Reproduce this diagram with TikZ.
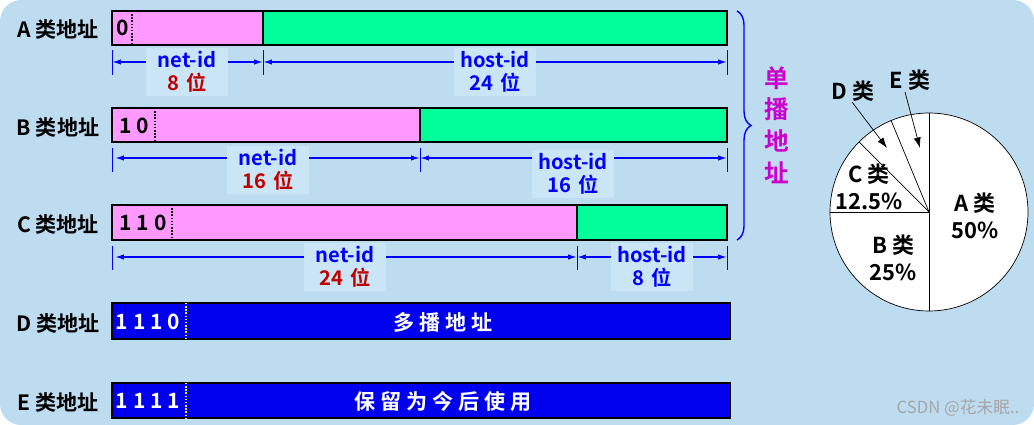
\documentclass[tikz,border=0pt]{standalone}
\usepackage{fontspec}
\setmainfont{Noto Sans CJK SC}[BoldFont={Noto Sans CJK SC Bold}]
\usetikzlibrary{decorations.pathreplacing,arrows.meta}
\definecolor{bgblue}{HTML}{BDDCF0}
\definecolor{boxblue}{HTML}{C9E5F6}
\definecolor{netpink}{HTML}{FF99FF}
\definecolor{hostgreen}{HTML}{00FF99}
\definecolor{mcblue}{HTML}{0000EE}
\definecolor{bitred}{HTML}{C00000}
\definecolor{ucmagenta}{HTML}{CC00CC}

\begin{document}
\begin{tikzpicture}[
  x=0.02cm, y=-0.02cm,
  font=\bfseries\fontsize{12}{14}\selectfont,
  cls/.style={anchor=center},
  dimline/.style={draw=blue, thick, {Latex[length=5pt,width=3pt]}-{Latex[length=5pt,width=3pt]}},
  tickline/.style={draw=blue, thin},
  dimtext/.style={fill=boxblue, align=center, inner sep=2pt, text width=1.5cm, font=\bfseries\fontsize{11.5}{13}\selectfont},
  bar/.style={draw=black, thick},
  pielabel/.style={align=center, inner sep=0pt, font=\bfseries\fontsize{12.5}{15}\selectfont},
]

% background
\fill [bgblue, rounded corners=12pt] (0,0) rectangle (1034,425);
\useasboundingbox (0,0) rectangle (1034,425);

% A class
\node [cls] (la) at (58,29) {A 类地址};
\fill [netpink] (112,11) rectangle (263,45);
\fill [hostgreen] (263,11) rectangle (727,45);
\draw [bar] (112,11) rectangle (727,45);
\draw [bar] (263,11) -- (263,45);
\draw [densely dotted, thick] (132,11) -- (132,45);
\node (ba) at (123,28) {0};
\foreach \x in {112,263,727} \draw [tickline] (\x,50) -- (\x,75);
\coordinate (a0) at (112,62);
\coordinate (a1) at (263,62);
\coordinate (a2) at (727,62);
\draw [dimline] (a0) -- (a1);
\draw [dimline] (a1) -- (a2);
\node [dimtext] (na) at (187,72) {\textcolor{blue}{net-id}\\\textcolor{bitred}{8 位}};
\node [dimtext] (ha) at (495,72) {\textcolor{blue}{host-id}\\\textcolor{blue}{24 位}};

% B class
\node [cls] (lb) at (58,127) {B 类地址};
\fill [netpink] (112,108) rectangle (420,142);
\fill [hostgreen] (420,108) rectangle (727,142);
\draw [bar] (112,108) rectangle (727,142);
\draw [bar] (420,108) -- (420,142);
\draw [densely dotted, thick] (155,108) -- (155,142);
\node (bb) at (134,126) {1 0};
\foreach \x in {112,420,727} \draw [tickline] (\x,148) -- (\x,172);
\coordinate (b0) at (115,158);
\coordinate (b1) at (420,158);
\coordinate (b2) at (727,158);
\draw [dimline] (b0) -- (b1);
\draw [dimline] (b1) -- (b2);
\node [dimtext] (nb) at (268,170) {\textcolor{blue}{net-id}\\\textcolor{bitred}{16 位}};
\node [dimtext] (hb) at (573,174) {\textcolor{blue}{host-id}\\\textcolor{blue}{16 位}};

% C class
\node [cls] (lc) at (58,224) {C 类地址};
\fill [netpink] (112,205) rectangle (577,240);
\fill [hostgreen] (577,205) rectangle (727,240);
\draw [bar] (112,205) rectangle (727,240);
\draw [bar] (577,205) -- (577,240);
\draw [densely dotted, thick] (172,205) -- (172,240);
\node (bc) at (143,223) {1 1 0};
\foreach \x in {112,577,727} \draw [tickline] (\x,246) -- (\x,270);
\coordinate (c0) at (115,257);
\coordinate (c1) at (577,257);
\coordinate (c2) at (727,257);
\draw [dimline] (c0) -- (c1);
\draw [dimline] (c1) -- (c2);
\node [dimtext] (nc) at (345,267) {\textcolor{blue}{net-id}\\\textcolor{bitred}{24 位}};
\node [dimtext] (hc) at (652,267) {\textcolor{blue}{host-id}\\\textcolor{blue}{8 位}};

% D class
\node [cls] (ld) at (58,323) {D 类地址};
\draw [bar, fill=mcblue] (112,303) rectangle (730,339);
\draw [densely dotted, thick, yellow] (186,303) -- (186,339);
\node [white] (bd) at (148,322) {1 1 1 0};
\node [white] (md) at (443,322) {多 播 地 址};

% E class
\node [cls] (le) at (58,402) {E 类地址};
\draw [bar, fill=mcblue] (112,383) rectangle (730,418);
\draw [densely dotted, thick, yellow] (186,383) -- (186,418);
\node [white] (be) at (148,401) {1 1 1 1};
\node [white] (me) at (443,401) {保 留 为 今 后 使 用};

% unicast brace
\draw [blue, thick, decorate, decoration={brace, amplitude=8pt}] (737,11) -- (737,240);
\node [ucmagenta, align=center, font=\bfseries\fontsize{14}{18}\selectfont] (uc) at (777,125) {单\\播\\地\\址};

% pie chart
\coordinate (pc) at (929,212);
\draw [fill=white] (pc) circle [radius=99];
\draw (929,113) -- (929,311);
\draw (pc) -- (830,212);
\draw (pc) -- +(-70,-70);
\draw (pc) -- +(-37.9,-91.5);
\node [pielabel] (pa) at (975,216) {A 类\\50\%};
\node [pielabel] (pb) at (893,258) {B 类\\25\%};
\node [pielabel] (pcl) at (869,187) {C 类\\12.5\%};
\node [pielabel] (pd) at (853,91) {D 类};
\node [pielabel] (pe) at (910,80) {E 类};
\coordinate (dt) at (887,148);
\coordinate (et) at (920,148);
\draw [-{Latex[length=6pt,width=4pt]}] (852,102) -- (dt);
\draw [-{Latex[length=6pt,width=4pt]}] (905,92) -- (et);

% watermark
\node [gray!70, font=\fontsize{9.5}{10}\selectfont] (wm) at (958,408) {CSDN @花未眠..};
\end{tikzpicture}
\end{document}
